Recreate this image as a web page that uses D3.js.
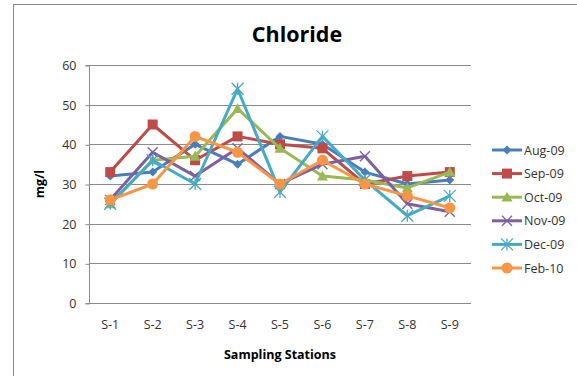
<!DOCTYPE html>
<html>
<head>
<meta charset="utf-8">
<script src="https://cdn.jsdelivr.net/npm/d3@7"></script>
<style>
  html, body { margin: 0; padding: 0; background: #fff; }
  svg { display: block; font-family: "Open Sans", "Noto Sans", sans-serif; }
</style>
</head>
<body>
<svg id="chart" width="577" height="376"></svg>
<script>
const categories = ["S-1", "S-2", "S-3", "S-4", "S-5", "S-6", "S-7", "S-8", "S-9"];
const seriesNames = ["Aug-09", "Sep-09", "Oct-09", "Nov-09", "Dec-09", "Feb-10"];
const aug09 = [32, 33, 40, 35, 42, 40, 33, 30, 31];
const sep09 = [33, 45, 36, 42, 40, 39, 30, 32, 33];
const oct09 = [25, 36, 37, 49, 39, 32, 31, 29, 33];
const nov09 = [26, 38, 32, 39, 30, 35, 37, 25, 23];
const dec09 = [25, 36, 30, 54, 28, 42, 31, 22, 27];
const feb10 = [26, 30, 42, 38, 30, 36, 30, 27, 24];
const yTicks = [0, 10, 20, 30, 40, 50, 60];
const colors = ["#4A7EBB", "#BE4B48", "#98B954", "#7D60A0", "#46AAC5", "#F79646"];
const markers = ["diamond", "square", "triangle", "x", "asterisk", "circle"];
const seriesValues = [aug09, sep09, oct09, nov09, dec09, feb10];

const svg = d3.select("#chart");
const plot = { left: 89, right: 471, top: 65, bottom: 303 };

// outer chart frame
svg.append("rect").attr("x", 13.5).attr("y", 4.5).attr("width", 600).attr("height", 400)
  .attr("fill", "#fff").attr("stroke", "#8a8a8a").attr("stroke-width", 1);

const x = d3.scaleBand().domain(categories).range([plot.left, plot.right]);
const y = d3.scaleLinear().domain([0, 60]).range([plot.bottom, plot.top]);

// gridlines
svg.append("g").selectAll("line").data(yTicks.filter(t => t > 0)).join("line")
  .attr("x1", plot.left).attr("x2", plot.right)
  .attr("y1", d => Math.round(y(d)) + 0.5).attr("y2", d => Math.round(y(d)) + 0.5)
  .attr("stroke", "#8c8c8c").attr("stroke-width", 1);

// y axis
const yAxis = d3.axisLeft(y).tickValues(yTicks).tickSize(4).tickPadding(9);
const gy = svg.append("g").attr("transform", `translate(${plot.left + 0.5},0.5)`).call(yAxis);
gy.select(".domain").attr("stroke", "#8c8c8c").attr("d", `M-4,${plot.top}H0V${plot.bottom}H-4`);
gy.selectAll(".tick line").attr("stroke", "#8c8c8c");
gy.selectAll(".tick text").attr("fill", "#333").style("font-size", "12.5px").style("font-family", "'Open Sans', sans-serif");

// x axis
const xAxis = d3.axisBottom(x).tickSize(0).tickPadding(17);
const gx = svg.append("g").attr("transform", `translate(0,${plot.bottom + 0.5})`).call(xAxis);
gx.select(".domain").attr("stroke", "#8c8c8c").attr("d", `M${plot.left},0H${plot.right}`);
gx.selectAll(".tick text").attr("fill", "#333").style("font-size", "12.5px").style("font-family", "'Open Sans', sans-serif");

// titles
svg.append("text").attr("x", 297).attr("y", 42).attr("text-anchor", "middle")
  .style("font-size", "21.5px").style("font-weight", "bold").attr("fill", "#000").text("Chloride");
svg.append("text").attr("x", 280).attr("y", 359).attr("text-anchor", "middle")
  .style("font-size", "12.5px").style("font-weight", "bold").attr("fill", "#000").text("Sampling Stations");
svg.append("text").attr("transform", `translate(44,${(plot.top + plot.bottom) / 2}) rotate(-90)`)
  .attr("text-anchor", "middle")
  .style("font-size", "12.5px").style("font-weight", "bold").attr("fill", "#000").text("mg/l");

function drawMarker(g, type, color, cx, cy, s) {
  const sc = s || 1;
  if (type === "diamond") {
    const r = 4.5 * sc;
    g.append("path").attr("d", `M${cx},${cy - r}L${cx + r},${cy}L${cx},${cy + r}L${cx - r},${cy}Z`).attr("fill", color);
  } else if (type === "square") {
    const r = 5 * sc;
    g.append("rect").attr("x", cx - r).attr("y", cy - r).attr("width", 2 * r).attr("height", 2 * r).attr("fill", color);
  } else if (type === "triangle") {
    const r = 5.5 * sc;
    g.append("path").attr("d", `M${cx},${cy - r}L${cx + r},${cy + r * 0.8}L${cx - r},${cy + r * 0.8}Z`).attr("fill", color);
  } else if (type === "x") {
    const r = 5 * sc;
    g.append("path").attr("d", `M${cx - r},${cy - r}L${cx + r},${cy + r}M${cx - r},${cy + r}L${cx + r},${cy - r}`)
      .attr("stroke", color).attr("stroke-width", 1.3).attr("fill", "none");
  } else if (type === "asterisk") {
    const r = 6 * sc;
    g.append("path").attr("d", `M${cx - r},${cy - r}L${cx + r},${cy + r}M${cx - r},${cy + r}L${cx + r},${cy - r}M${cx},${cy - r}L${cx},${cy + r}`)
      .attr("stroke", color).attr("stroke-width", 1.3).attr("fill", "none");
  } else if (type === "circle") {
    g.append("circle").attr("cx", cx).attr("cy", cy).attr("r", 5.5 * sc).attr("fill", color);
  }
}

const line = d3.line().x((d, i) => x(categories[i]) + x.bandwidth() / 2).y(d => y(d));

seriesValues.forEach((vals, si) => {
  const g = svg.append("g");
  g.append("path").datum(vals).attr("d", line).attr("fill", "none")
    .attr("stroke", colors[si]).attr("stroke-width", 3).attr("stroke-linejoin", "round");
  vals.forEach((v, i) => drawMarker(g, markers[si], colors[si], x(categories[i]) + x.bandwidth() / 2, y(v)));
});

// legend
const legendY = d3.scalePoint().domain(seriesNames).range([150, 268]);
const lg = svg.append("g");
seriesNames.forEach((name, si) => {
  const ly = legendY(name);
  lg.append("line").attr("x1", 492).attr("x2", 522).attr("y1", ly).attr("y2", ly)
    .attr("stroke", colors[si]).attr("stroke-width", 3);
  drawMarker(lg, markers[si], colors[si], 507, ly);
  lg.append("text").attr("x", 524).attr("y", ly + 4.5).style("font-size", "12.5px").attr("fill", "#333").text(name);
});
</script>
</body>
</html>
